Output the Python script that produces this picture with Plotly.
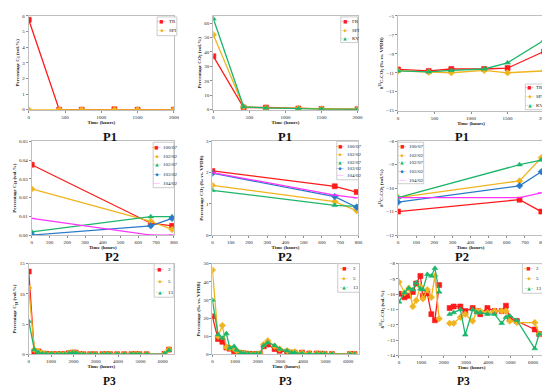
import plotly.graph_objects as go
from plotly.subplots import make_subplots

# ---------------- data ----------------
# P1 panels
p1_time = [0, 420, 730, 1180, 1500, 2000]
p1_c1_TR = [5.75, 0.0, 0.0, 0.02, 0.0, 0.0]
p1_c1_SPI = [0.0, 0.0, 0.0, 0.0, 0.0, 0.0]

p1_co2_FR = [37, 1.5, 1.5, 0.8, 0.5, 0.3]
p1_co2_SPI = [52, 2.0, 1.2, 0.8, 0.5, 0.3]
p1_co2_KV = [63, 2.0, 1.2, 0.6, 0.4, 0.2]

p1_d13_TR = [-10.65, -10.8, -10.6, -10.6, -10.5, -8.75]
p1_d13_SPI = [-10.8, -10.95, -11.0, -10.75, -11.0, -10.8]
p1_d13_KV = [-10.8, -10.9, -10.75, -10.6, -9.95, -7.55]

# P2 panels
p2_time = [0, 670, 790]
p2_names = ["100/07", "102/02", "102/07", "103/02", "104/02"]
p2_c10 = {
    "100/07": [0.0375, 0.0063, 0.0049],
    "102/02": [0.0246, 0.0073, 0.0030],
    "102/07": [0.0017, 0.0098, 0.0098],
    "103/02": [0.0000, 0.0049, 0.0089],
    "104/02": [0.0089, 0.0000, 0.0000],
}
p2_co2 = {
    "100/07": [2.05, 1.56, 1.375],
    "102/02": [1.59, 1.07, 0.78],
    "102/07": [1.43, 0.95, 0.92],
    "103/02": [1.98, 1.23, 0.89],
    "104/02": [2.00, 1.28, 1.19],
}
p2_d13 = {
    "100/07": [-11.0, -10.49, -11.0],
    "102/02": [-10.4, -9.69, -8.7],
    "102/07": [-10.4, -9.0, -8.8],
    "103/02": [-10.6, -9.9, -9.3],
    "104/02": [-10.4, -10.4, -10.2],
}

# P3 panels
p3_names = ["2", "5", "13"]
p3_time = [0, 250, 440, 620, 770, 960, 1070, 1270, 1450, 1610, 1800, 1950, 2100,
           2270, 2450, 2750, 2970, 3300, 3490, 3640, 3960, 4280, 4600, 4790, 4960,
           5280, 6080, 6280]
p3_c10 = {
    "2": [13.7, 0.3, 0.5, 0.1, 0.1, 0.05, 0.05, 0.05, 0.05, 0.05, 0.2, 0.3, 0.3,
          0.05, 0.05, 0.05, 0.05, 0.05, 0.05, 0.05, 0.05, 0.05, 0.05, 0.05, 0.05,
          0.05, 0.1, 0.8],
    "5": [11.0, 0.8, 0.5, 0.2, 0.1, 0.05, 0.05, 0.05, 0.05, 0.05, 0.2, 0.3, 0.3,
          0.05, 0.05, 0.05, 0.05, 0.05, 0.05, 0.05, 0.05, 0.05, 0.05, 0.05, 0.05,
          0.05, 0.1, 0.8],
    "13": [5.5, 0.8, 0.3, 0.1, 0.1, 0.05, 0.05, 0.05, 0.05, 0.05, 0.2, 0.25, 0.3,
           0.05, 0.05, 0.05, 0.05, 0.05, 0.05, 0.05, 0.05, 0.05, 0.05, 0.05, 0.05,
           0.05, 0.1, 0.7],
}
p3_co2 = {
    "2": [21, 8.5, 7, 3.8, 3.2, 1.8, 1.5, 0.8, 0.5, 0.3, 0.2, 0.2, 0.3,
          4.5, 5.5, 3, 2, 1.5, 0.8, 1.0, 1.0, 0.5, 0.5, 0.4, 0.3, 0.2, 0.2, 0.2],
    "5": [46.5, 10, 16, 4, 3.5, 3, 2, 1, 0.5, 0.3, 0.2, 0.2, 0.5,
          5.5, 7.5, 4.5, 3, 2, 1.2, 1.5, 0.8, 0.6, 0.5, 0.3, 0.3, 0.2, 0.2, 0.2],
    "13": [30, 11, 9, 11.5, 3.5, 4.5, 2.5, 1, 0.6, 0.4, 0.3, 0.3, 0.3,
           5, 6.5, 5, 3, 2, 1, 1, 0.5, 0.4, 0.3, 0.3, 0.2, 0.2, 0.1, 0.1],
}
p3_d13_time = [0, 250, 440, 620, 770, 960, 1070, 1270, 1450, 1610, 1800, None,
               2270, 2450, 2750, 2970, 3300, 3490, 3640, 3960, 4280, 4600, 4790,
               4960, 5280, 6080, 6280]
p3_d13 = {
    "2": [-9.97, -10.2, -10.1, -9.85, -9.3, -8.8, -10.1, -9.95, -11.3, -11.7, -9.4, None,
          -10.9, -10.8, -10.8, -11.1, -10.9, -11.1, -11.3, -10.9, -11.1, -11.1, -10.75,
          -11.6, -11.75, -12.3, -12.6],
    "5": [-9.2, -9.9, -9.6, -10.8, -10.4, -9.5, -10.3, -9.7, -10.2, -8.8, -11.6, None,
          -11.9, -11.9, -11.5, -11.3, -11.75, -11.1, -11.1, -11.2, -11.1, -11.1, -11.1,
          -11.75, -11.85, -11.85, -12.6],
    "13": [-10.5, -9.9, -9.6, -9.7, -9.25, -9.65, -9.7, -8.7, -8.8, -8.3, -9.85, None,
           -11.3, -11.2, -11.0, -12.65, -11.0, -11.2, -11.2, -11.3, -11.3, -11.9, -11.5,
           -11.4, -11.7, -13.55, -12.6],
}

# ---------------- styles ----------------
RED = "#FF1A1A"
ORANGE = "#F0B41E"
GREEN = "#1DB56A"
BLUE = "#2A7AC8"
MAG = "#FF33FF"
FONT = "Liberation Serif"
TXT = "#222222"

style = {
    "TR": (RED, "square", "■"), "FR": (RED, "square", "■"),
    "SPI": (ORANGE, "diamond", "◆"), "KV": (GREEN, "triangle-up", "▲"),
    "100/07": (RED, "square", "■"), "102/02": (ORANGE, "diamond", "◆"),
    "102/07": (GREEN, "triangle-up", "▲"), "103/02": (BLUE, "diamond", "◆"),
    "104/02": (MAG, "line-ew", "–"),
    "2": (RED, "square", "■"), "5": (ORANGE, "diamond", "◆"), "13": (GREEN, "triangle-up", "▲"),
}

fig = make_subplots(rows=3, cols=3)


def add(x, y, name, row, col):
    c, s, _ = style[name]
    fig.add_trace(go.Scatter(
        x=x, y=y, name=name, mode="lines+markers", showlegend=False,
        line=dict(color=c, width=1.3),
        marker=dict(color=c, symbol=s, size=5, line=dict(width=0.6 if s != "line-ew" else 1, color=c)),
        connectgaps=False), row=row, col=col)


add(p1_time, p1_c1_TR, "TR", 1, 1)
add(p1_time, p1_c1_SPI, "SPI", 1, 1)
add(p1_time, p1_co2_FR, "FR", 1, 2)
add(p1_time, p1_co2_SPI, "SPI", 1, 2)
add(p1_time, p1_co2_KV, "KV", 1, 2)
add(p1_time, p1_d13_TR, "TR", 1, 3)
add(p1_time, p1_d13_SPI, "SPI", 1, 3)
add(p1_time, p1_d13_KV, "KV", 1, 3)
for n in p2_names:
    add(p2_time, p2_c10[n], n, 2, 1)
for n in p2_names:
    add(p2_time, p2_co2[n], n, 2, 2)
for n in p2_names:
    add(p2_time, p2_d13[n], n, 2, 3)
for n in p3_names:
    add(p3_time, p3_c10[n], n, 3, 1)
for n in p3_names:
    add(p3_time, p3_co2[n], n, 3, 2)
for n in p3_names:
    add(p3_d13_time, p3_d13[n], n, 3, 3)

W, H = 550, 385
# pixel boxes of each plot area: (x0, x1, ytop, ybottom)
boxes = [
    (20, 167, 6, 101), (207, 353, 6, 101), (394, 542, 6, 102),
    (23, 167, 133, 228), (206, 354, 133, 228), (394, 541, 133, 228),
    (20, 167, 257, 349), (206, 355, 257, 349), (395, 542, 257, 350),
]
yranges = [[0, 6], [0, 65], [-15, -5], [0, 0.05], [0, 3], [-12, -8], [0, 15], [0, 50], [-14, -8]]
ydt = [1, 10, 2, 0.01, 1, 1, 5, 10, 1]
xranges = [[0, 2000]] * 3 + [[0, 800]] * 3 + [[0, 6500]] * 3
xdt = [500] * 3 + [100] * 3 + [1000] * 3
ytitles = [
    "Percentage C<sub>1</sub> (vol.%)",
    "Percentage CO<sub>2</sub> (vol.%)",
    "δ<sup>13</sup>C-CO<sub>2</sub> (‰ vs. VPDB)",
    "Percentage C<sub>10</sub> (vol.%)",
    "Percentage CO<sub>2</sub> (‰ vs. VPDB)",
    "δ<sup>13</sup>C-CO<sub>2</sub> (vol.%)",
    "Percentage C<sub>10</sub> (vol.%)",
    "Percentage (‰ vs. VPDB)",
    "δ<sup>13</sup>C-CO<sub>2</sub> (vol.%)",
]
axcommon = dict(showgrid=False, zeroline=False, showline=True, mirror=True,
                linecolor="#BFBFBF", linewidth=1, ticks="outside", ticklen=2,
                tickcolor="#8C8C8C", tickfont=dict(family=FONT, size=5, color=TXT))
for i, (x0, x1, yt, yb) in enumerate(boxes):
    k = "" if i == 0 else str(i + 1)
    fig.layout["xaxis" + k].update(
        domain=[x0 / W, x1 / W], range=xranges[i], dtick=xdt[i], tick0=0,
        title=dict(text="<b>Time (hours)</b>", font=dict(family=FONT, size=5, color=TXT), standoff=0),
        **axcommon)
    fig.layout["yaxis" + k].update(
        domain=[1 - yb / H, 1 - yt / H], range=yranges[i], dtick=ydt[i], tick0=yranges[i][0],
        title=dict(text="<b>" + ytitles[i] + "</b>", font=dict(family=FONT, size=5, color=TXT), standoff=2),
        tickformat=".2f" if i == 3 else None,
        **axcommon)
    lab = ["P1", "P2", "P3"][i // 3]
    row = i // 3
    if row < 2:
        fig.add_annotation(text="<b>" + lab + "</b>", x=(x0 + x1) / 2 / W,
                           y=1 - [120, 250][row] / H,
                           xref="paper", yref="paper", showarrow=False,
                           font=dict(family=FONT, size=12.5, color="#111"))
    else:
        fig.add_annotation(text="<b>" + lab + "</b>", x=(x0 + x1) / 2 / W,
                           y=1 - 384 / H, yanchor="bottom",
                           xref="paper", yref="paper", showarrow=False,
                           font=dict(family=FONT, size=11.5, color="#111"))

# manual legends: (box x0, x1, y0, y1), symbol x, text x, entry y's, names
legends = [
    ((150, 170, 7, 26), 155, 160, [12, 21], ["TR", "SPI"]),
    ((336, 353, 7, 33), 341, 345, [12, 21, 29], ["FR", "SPI", "KV"]),
    ((523, 542, 75, 101), 528, 532, [79, 88, 97], ["TR", "SPI", "KV"]),
    ((146, 167, 134, 180), 150, 154, [139, 148, 157, 167, 176], p2_names),
    ((332, 354, 133, 172), 336, 340, [138, 146, 154, 161, 168], p2_names),
    ((394, 420, 134, 176), 399, 403, [138, 147, 155, 164, 173], p2_names),
    ((147, 167, 257, 291), 153, 159, [263, 275, 286], p3_names),
    ((333, 355, 257, 286), 340, 346, [262, 272, 281], p3_names),
    ((520, 542, 257, 287), 527, 532, [262, 272, 282], p3_names),
]
for (bx0, bx1, by0, by1), sx, tx, ys, names in legends:
    fig.add_shape(type="rect", xref="paper", yref="paper",
                  x0=bx0 / W, x1=bx1 / W, y0=1 - by1 / H, y1=1 - by0 / H,
                  line=dict(color="#BFBFBF", width=0.8), fillcolor="white", layer="above")
    for yy, n in zip(ys, names):
        c, _, g = style[n]
        sym = "–" + g + "–" if g != "–" else "–––"
        fig.add_annotation(text=sym, x=sx / W, y=1 - yy / H, xref="paper", yref="paper",
                           showarrow=False, xanchor="center", yanchor="middle",
                           font=dict(family="DejaVu Sans", size=4.5, color=c))
        fig.add_annotation(text=n, x=tx / W, y=1 - yy / H, xref="paper", yref="paper",
                           showarrow=False, xanchor="left", yanchor="middle",
                           font=dict(family=FONT, size=5, color=TXT))

fig.update_layout(width=W, height=H, margin=dict(l=0, r=0, t=0, b=0),
                  paper_bgcolor="white", plot_bgcolor="white", showlegend=False,
                  font=dict(family=FONT))
fig.write_html("out.html")
